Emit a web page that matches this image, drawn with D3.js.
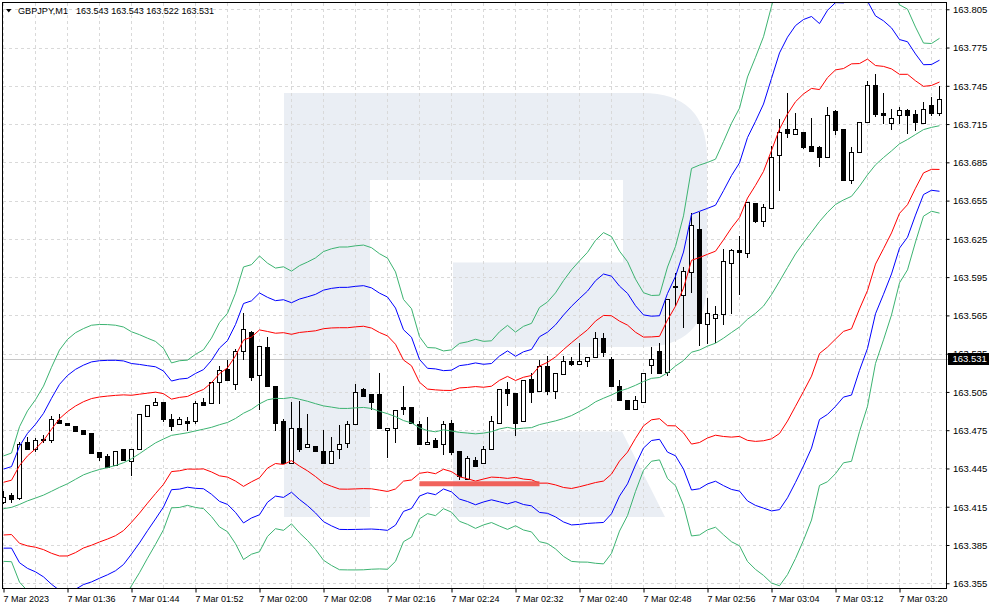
<!DOCTYPE html>
<html>
<head>
<meta charset="utf-8">
<script src="https://cdn.jsdelivr.net/npm/d3@7"></script>
<style>
  html, body { margin: 0; padding: 0; background: #fff; }
  svg { display: block; }
  text { font-family: "Liberation Sans", Arial, sans-serif; font-size: 9.5px; fill: #000; }
  .small text, text.small { font-size: 9px; }
</style>
</head>
<body>
<div id="chart"></div>
<script>
// GBPJPY M1 candles with Bollinger bands (20; 2, 3, 4 deviations)

const symbol = "GBPJPY,M1";
const quote = [163.543, 163.543, 163.522, 163.531];
const lastPrice = 163.531;
const startTime = "2023-03-07 01:28";

const open = [163.419, 163.424, 163.422, 163.466, 163.460, 163.467, 163.467, 163.483, 163.481, 163.478,
  163.475, 163.473, 163.458, 163.455, 163.448, 163.460, 163.451, 163.460, 163.486, 163.495,
  163.497, 163.484, 163.480, 163.482, 163.482, 163.497, 163.496, 163.513, 163.523, 163.511,
  163.537, 163.552, 163.518, 163.540, 163.510, 163.482, 163.449, 163.477, 163.462, 163.463,
  163.459, 163.449, 163.460, 163.465, 163.480, 163.507, 163.503, 163.503, 163.475, 163.477,
  163.493, 163.493, 163.480, 163.464, 163.467, 163.464, 163.481, 163.459, 163.437, 163.452,
  163.449, 163.460, 163.481, 163.507, 163.504, 163.482, 163.515, 163.506, 163.525, 163.506,
  163.519, 163.529, 163.527, 163.529, 163.532, 163.547, 163.531, 163.510, 163.499, 163.492,
  163.497, 163.526, 163.537, 163.521, 163.588, 163.581, 163.599, 163.633, 163.558, 163.563,
  163.566, 163.606, 163.616, 163.614, 163.653, 163.639, 163.649, 163.691, 163.711, 163.707,
  163.709, 163.698, 163.697, 163.689, 163.725, 163.711, 163.671, 163.693, 163.717, 163.746,
  163.724, 163.716, 163.722, 163.726, 163.723, 163.716, 163.730, 163.724];
const high = [163.427, 163.426, 163.466, 163.470, 163.469, 163.471, 163.486, 163.488, 163.481, 163.478,
  163.475, 163.473, 163.458, 163.456, 163.459, 163.460, 163.460, 163.488, 163.495, 163.500,
  163.497, 163.488, 163.485, 163.485, 163.498, 163.500, 163.513, 163.525, 163.530, 163.539,
  163.567, 163.553, 163.541, 163.548, 163.510, 163.484, 163.497, 163.498, 163.488, 163.463,
  163.475, 163.470, 163.479, 163.482, 163.511, 163.508, 163.503, 163.520, 163.477, 163.491,
  163.510, 163.493, 163.482, 163.485, 163.469, 163.482, 163.483, 163.459, 163.455, 163.454,
  163.463, 163.486, 163.507, 163.513, 163.504, 163.514, 163.520, 163.530, 163.533, 163.520,
  163.533, 163.532, 163.543, 163.532, 163.552, 163.551, 163.532, 163.514, 163.499, 163.502,
  163.520, 163.540, 163.543, 163.578, 163.598, 163.603, 163.645, 163.646, 163.579, 163.572,
  163.617, 163.617, 163.627, 163.654, 163.653, 163.652, 163.698, 163.719, 163.739, 163.724,
  163.709, 163.720, 163.698, 163.728, 163.726, 163.711, 163.697, 163.717, 163.749, 163.754,
  163.739, 163.727, 163.728, 163.727, 163.726, 163.732, 163.736, 163.745];
const low = [163.418, 163.419, 163.421, 163.460, 163.459, 163.466, 163.466, 163.481, 163.479, 163.474,
  163.472, 163.457, 163.452, 163.446, 163.448, 163.452, 163.440, 163.460, 163.486, 163.495,
  163.482, 163.475, 163.480, 163.475, 163.481, 163.495, 163.496, 163.496, 163.514, 163.507,
  163.531, 163.514, 163.492, 163.510, 163.475, 163.449, 163.449, 163.459, 163.462, 163.459,
  163.449, 163.449, 163.453, 163.462, 163.480, 163.502, 163.492, 163.477, 163.454, 163.466,
  163.488, 163.481, 163.464, 163.464, 163.462, 163.456, 163.456, 163.437, 163.437, 163.447,
  163.449, 163.460, 163.481, 163.495, 163.471, 163.482, 163.497, 163.506, 163.503, 163.500,
  163.519, 163.526, 163.527, 163.525, 163.532, 163.533, 163.510, 163.499, 163.492, 163.492,
  163.497, 163.520, 163.520, 163.518, 163.573, 163.556, 163.583, 163.542, 163.543, 163.544,
  163.558, 163.567, 163.582, 163.611, 163.638, 163.635, 163.649, 163.663, 163.705, 163.707,
  163.696, 163.694, 163.682, 163.689, 163.707, 163.671, 163.669, 163.693, 163.717, 163.721,
  163.716, 163.711, 163.716, 163.708, 163.710, 163.716, 163.722, 163.722];
const close = [163.423, 163.421, 163.464, 163.460, 163.467, 163.468, 163.484, 163.481, 163.479, 163.474,
  163.472, 163.457, 163.454, 163.446, 163.459, 163.452, 163.460, 163.488, 163.495, 163.497,
  163.484, 163.478, 163.484, 163.481, 163.496, 163.495, 163.513, 163.522, 163.514, 163.537,
  163.554, 163.517, 163.541, 163.510, 163.481, 163.449, 163.477, 163.460, 163.464, 163.459,
  163.449, 163.459, 163.464, 163.480, 163.505, 163.502, 163.497, 163.477, 163.477, 163.491,
  163.492, 163.481, 163.464, 163.466, 163.462, 163.480, 163.458, 163.439, 163.453, 163.447,
  163.460, 163.482, 163.507, 163.504, 163.481, 163.514, 163.505, 163.525, 163.506, 163.520,
  163.529, 163.527, 163.529, 163.532, 163.547, 163.536, 163.510, 163.499, 163.492, 163.499,
  163.520, 163.531, 163.520, 163.578, 163.587, 163.600, 163.636, 163.559, 163.567, 163.566,
  163.608, 163.616, 163.615, 163.654, 163.639, 163.650, 163.689, 163.709, 163.708, 163.711,
  163.697, 163.694, 163.689, 163.722, 163.710, 163.671, 163.693, 163.717, 163.746, 163.723,
  163.722, 163.720, 163.726, 163.722, 163.717, 163.727, 163.724, 163.735];

// band centre and deviation for the first bars (their window starts off-screen)
const leadMid = [163.4135, 163.4145, 163.4168, 163.4196, 163.4218, 163.4241, 163.4271, 163.4302, 163.4330, 163.4365,
  163.4400, 163.4423, 163.4442, 163.4457, 163.4473, 163.4495, 163.4526, 163.4566, 163.4609];
const leadSd = [0.01033, 0.01065, 0.01523, 0.01764, 0.01928, 0.02136, 0.02430, 0.02691, 0.02830, 0.02873,
  0.02867, 0.02875, 0.02842, 0.02802, 0.02750, 0.02660, 0.02489, 0.02332, 0.02156];

const bbPeriod = 20;
const bandK = [2, 3, 4];
const bandColors = ["#ff0000", "#0000ff", "#3cb371"];

const priceTicks = [163.805, 163.775, 163.745, 163.715, 163.685, 163.655, 163.625, 163.595,
  163.565, 163.535, 163.505, 163.475, 163.445, 163.415, 163.385, 163.355];
const timeTicks = ["01:28", "01:36", "01:44", "01:52", "02:00", "02:08", "02:16", "02:24",
  "02:32", "02:40", "02:48", "02:56", "03:04", "03:12", "03:20"];
const timeTickLabels = ["7 Mar 2023", "7 Mar 01:36", "7 Mar 01:44", "7 Mar 01:52", "7 Mar 02:00",
  "7 Mar 02:08", "7 Mar 02:16", "7 Mar 02:24", "7 Mar 02:32", "7 Mar 02:40", "7 Mar 02:48",
  "7 Mar 02:56", "7 Mar 03:04", "7 Mar 03:12", "7 Mar 03:20"];

const levelPrice = 163.433;
const levelFrom = "02:20";
const levelTo = "02:35";

// ---------------------------------------------------------------
const W = 993, H = 610;
const plot = { left: 2.5, top: 2.5, right: 946.5, bottom: 588.5 };

const parse = d3.timeParse("%Y-%m-%d %H:%M");
const t0 = parse(startTime);
const atTime = s => parse("2023-03-07 " + s);
const n = close.length;
const times = d3.range(n).map(i => d3.timeMinute.offset(t0, i));

const x = d3.scaleTime().domain([times[0], times[n - 1]]).range([3.5, 939.5]);
const y = d3.scaleLinear().domain([163.3505, 163.8107]).range([589, 2]);

const bb = d3.range(n).map(i => {
    if (i < leadMid.length) return { mid: leadMid[i], sd: leadSd[i] };
    const w = close.slice(i - bbPeriod + 1, i + 1);
    const m = d3.mean(w);
    return { mid: m, sd: Math.sqrt(d3.mean(w, v => (v - m) * (v - m))) };
});

const svg = d3.select("#chart").append("svg")
    .attr("width", W).attr("height", H)
    .attr("viewBox", `0 0 ${W} ${H}`);

svg.append("rect").attr("width", W).attr("height", H).attr("fill", "#fff");

svg.append("clipPath").attr("id", "plotClip")
    .append("rect")
    .attr("x", plot.left).attr("y", plot.top)
    .attr("width", plot.right - plot.left).attr("height", plot.bottom - plot.top);

// watermark logo
const wm = svg.append("g").attr("fill", "#eaeef4");
wm.append("path").attr("d",
    "M284,93 H642 Q707,93 707,158 V282 Q707,347 642,347 H453 V262.5 H623 V180 H370 V517 H284 Z");
wm.append("path").attr("d", "M453,431.5 H622 L665,517 H453 Z");

// grid
const grid = svg.append("g").attr("stroke", "#d9d9d9").attr("stroke-dasharray", "3,3")
    .attr("shape-rendering", "crispEdges");
grid.selectAll(".hg").data(priceTicks).enter().append("line")
    .attr("x1", plot.left).attr("x2", plot.right)
    .attr("y1", d => Math.round(y(d)) + 0.5).attr("y2", d => Math.round(y(d)) + 0.5);
grid.selectAll(".vg").data(d3.range(0, n, 4)).enter().append("line")
    .attr("x1", i => x(times[i])).attr("x2", i => x(times[i]))
    .attr("y1", plot.top).attr("y2", plot.bottom);

// last price line
svg.append("line")
    .attr("x1", plot.left).attr("x2", 950)
    .attr("y1", Math.round(y(lastPrice)) + 0.5).attr("y2", Math.round(y(lastPrice)) + 0.5)
    .attr("stroke", "#c8c8c8").attr("shape-rendering", "crispEdges");

const chart = svg.append("g").attr("clip-path", "url(#plotClip)");

// candles
const candles = chart.append("g").attr("shape-rendering", "crispEdges");
const bars = candles.selectAll(".c").data(d3.range(n)).enter().append("g");
bars.append("line")
    .attr("x1", i => x(times[i])).attr("x2", i => x(times[i]))
    .attr("y1", i => Math.round(y(high[i]))).attr("y2", i => Math.round(y(low[i])) + 1)
    .attr("stroke", "#000");
bars.append("rect")
    .attr("x", i => x(times[i]) - 2)
    .attr("y", i => Math.round(y(Math.max(open[i], close[i]))) + 0.5)
    .attr("width", 4)
    .attr("height", i => Math.max(0, Math.round(y(Math.min(open[i], close[i]))) - Math.round(y(Math.max(open[i], close[i])))))
    .attr("fill", i => close[i] >= open[i] ? "#fff" : "#000")
    .attr("stroke", "#000");

// bollinger bands
const line = d3.line().x((d, i) => x(times[i])).y(d => y(d));
bandK.forEach((k, j) => {
    chart.append("path").datum(bb.map(b => b.mid + k * b.sd))
        .attr("d", line).attr("fill", "none").attr("stroke", bandColors[j]).attr("stroke-width", 1);
    chart.append("path").datum(bb.map(b => b.mid - k * b.sd))
        .attr("d", line).attr("fill", "none").attr("stroke", bandColors[j]).attr("stroke-width", 1);
});
chart.append("path").datum(bb.map(b => b.mid))
    .attr("d", line).attr("fill", "none").attr("stroke", "#3cb371").attr("stroke-width", 1);

// marked level
chart.append("line")
    .attr("x1", x(atTime(levelFrom))).attr("x2", x(atTime(levelTo)))
    .attr("y1", y(levelPrice)).attr("y2", y(levelPrice))
    .attr("stroke", "#f0524a").attr("stroke-opacity", 0.9).attr("stroke-width", 5);

// frame
svg.append("rect")
    .attr("x", plot.left).attr("y", plot.top)
    .attr("width", plot.right - plot.left).attr("height", plot.bottom - plot.top)
    .attr("fill", "none").attr("stroke", "#000").attr("shape-rendering", "crispEdges");

// price axis
const yAxis = svg.append("g").attr("transform", `translate(${plot.right},0)`)
    .call(d3.axisRight(y).tickValues(priceTicks).tickSize(3).tickPadding(3.5).tickFormat(d3.format(".3f")));
yAxis.select(".domain").remove();
yAxis.selectAll(".tick line").attr("stroke", "#000");
yAxis.selectAll(".tick text").attr("dy", "0.35em");
yAxis.attr("font-size", null).attr("font-family", null);

// time axis
const xAxis = svg.append("g").attr("class", "small").attr("transform", `translate(0,${plot.bottom})`)
    .call(d3.axisBottom(x).tickValues(timeTicks.map(atTime)).tickSize(4)
        .tickFormat((d, i) => timeTickLabels[i]));
xAxis.select(".domain").remove();
xAxis.selectAll(".tick line").attr("stroke", "#000");
xAxis.selectAll(".tick text").attr("text-anchor", "start").attr("x", -0.5).attr("y", 13).attr("dy", null);
xAxis.attr("font-size", null).attr("font-family", null);

// last price tag
const ly = y(lastPrice);
svg.append("rect").attr("x", 948).attr("y", Math.round(ly) - 6).attr("width", 41).attr("height", 12).attr("fill", "#000");
svg.append("text").attr("x", 952.5).attr("y", ly + 3.5).style("fill", "#fff").text(d3.format(".3f")(lastPrice));

// title
svg.append("path").attr("d", "M6,9 H11.5 L8.75,12.5 Z").attr("fill", "#000");
svg.append("text").attr("x", 18).attr("y", 14)
    .attr("textLength", 50).attr("lengthAdjust", "spacingAndGlyphs").text(symbol);
svg.append("text").attr("x", 76).attr("y", 14)
    .attr("textLength", 138).attr("lengthAdjust", "spacingAndGlyphs")
    .text(quote.map(d3.format(".3f")).join(" "));
</script>
</body>
</html>
